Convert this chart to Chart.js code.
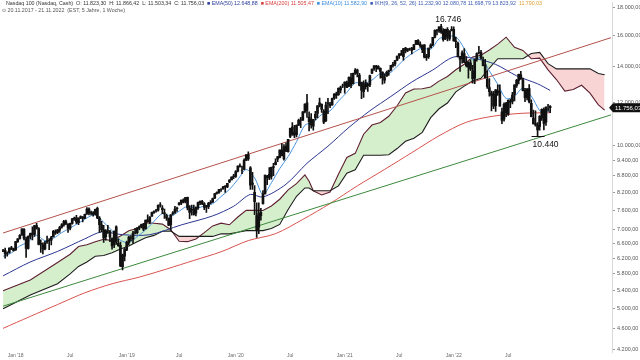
<!DOCTYPE html>
<html>
<head>
<meta charset="utf-8">
<script src="https://cdn.jsdelivr.net/npm/chart.js@4"></script>
<style>
  html, body { margin: 0; padding: 0; background: #fff; }
  canvas { display: block; }
</style>
</head>
<body>
<canvas id="myChart" width="640" height="360"></canvas>
<script>
// weekly candles, 20.11.2017 - 21.11.2022
const startDate = "2017-11-20";
const futureWeeks = 29; // room for the shifted cloud

const open = [
  6380,6410,6330,6350,6480,6450,
  6420,6650,6740,6840,7010,6720,6460,6800,6900,6860,7120,7030,6600,6560,6450,6640,6680,6690,6790,6940,6920,6980,7070,7140,7240,7160,7040,7190,7320,7360,7210,7360,7390,7350,7480,7640,7510,7520,7480,7660,7350,7140,6990,6790,6960,6940,6740,6560,7080,6600,6550,5980,
  6250,6420,6620,6750,6720,6920,6910,7050,7100,7170,7030,7300,7240,7410,7530,7580,7600,7770,7670,7520,7430,7340,7140,7490,7520,7650,7780,7830,7940,7880,8030,7530,7630,7640,7510,7680,7850,7890,7810,7700,7720,7840,7870,8010,8170,8200,8300,8320,8420,8390,8570,8650,8770,
  8780,8970,9180,8990,9040,9400,9630,9100,8480,8200,7430,7070,7430,7820,8150,8730,8850,8780,9120,9230,9440,9510,9820,9450,9980,9750,10400,10830,10580,10480,10910,11160,11150,11560,12000,11300,11200,10870,11260,11470,12000,11920,11580,11120,12000,11920,11900,12240,12470,12420,12680,12890,
  12900,13060,12880,13350,13030,13600,13790,13500,13090,12580,13070,12910,12960,13610,13870,14030,14020,13900,13670,13210,13440,13700,13800,14070,14160,14380,14670,14800,14600,15140,15000,15100,15140,15050,15400,15650,15400,15040,15350,14540,14600,15170,15350,15860,16320,16300,16600,16290,15770,16410,15750,16400,
  16400,15560,15460,14570,14480,14800,14270,13960,14220,13740,13330,14440,14850,14880,14370,14110,13260,12800,12540,12440,11850,12630,12570,11550,11190,11990,11440,12080,12070,12440,12920,13200,13510,13230,12650,12270,12750,11980,11250,10990,10900,10850,11260,11670,11050,11700,11823.30
];
const high = [
  6440,6470,6370,6480,6520,6470,
  6660,6740,6850,7020,7030,6780,6820,6900,7080,7130,7190,7060,6700,6620,6660,6810,6740,6800,6980,6990,7010,7100,7180,7280,7290,7180,7200,7340,7380,7440,7360,7420,7400,7480,7690,7680,7570,7560,7640,7700,7400,7250,7130,7000,7130,6980,6760,6960,7110,6730,6640,6310,
  6460,6670,6800,6820,6950,7040,7060,7110,7170,7190,7290,7450,7400,7540,7580,7630,7780,7850,7750,7640,7480,7360,7460,7560,7730,7700,7850,7940,7980,8030,8040,7750,7770,7770,7710,7870,7910,7930,7850,7760,7860,7920,8000,8170,8220,8310,8330,8410,8440,8520,8660,8760,8850,
  9000,9180,9260,9170,9460,9630,9740,9150,8930,8440,7840,7840,7660,8260,8830,8820,9110,9130,9280,9460,9560,9830,10090,10050,10120,10280,10780,11030,10900,10930,11200,11280,11560,11950,12440,11550,11460,11190,11580,11860,12250,11950,11660,12040,12230,12030,12240,12480,12560,12790,12880,12990,
  13120,13160,13400,13610,13620,13880,13850,13600,13100,13180,13230,13050,13500,13850,14060,14080,14060,13930,13690,13570,13740,13800,14070,14250,14370,14640,14800,15000,15120,15200,15120,15140,15200,15380,15660,15700,15560,15350,15380,14750,15150,15420,15860,16360,16400,16580,16746,16450,16420,16530,16300,16600,
  16580,15860,15540,14620,14970,15120,14600,14280,14400,14080,14440,14850,15265,15000,14570,14440,13720,13300,12620,12600,12690,12960,12950,11730,12000,12030,12150,12190,12550,12950,13260,13560,13720,13330,12760,12750,12970,12160,11630,11600,11030,11370,11700,11750,11800,11920,11866.42
];
const low = [
  6370,6200,6250,6330,6430,6390,
  6410,6630,6720,6830,6700,6220,6440,6730,6700,6800,7010,6560,6350,6310,6420,6600,6430,6560,6780,6860,6880,6920,7040,7100,7150,6920,6990,7160,7280,7180,7150,7330,7230,7330,7470,7450,7450,7410,7440,7330,6920,6940,6630,6690,6890,6650,6440,6480,6570,6520,5980,5900,
  6130,6400,6560,6670,6600,6870,6870,7000,7050,6970,7010,7230,7180,7400,7500,7540,7570,7700,7490,7340,7280,7120,6980,7450,7500,7560,7770,7780,7840,7840,7610,7330,7440,7440,7420,7630,7780,7780,7620,7530,7650,7810,7860,7980,8140,8160,8230,8310,8200,8370,8550,8650,8690,
  8740,8950,9130,8880,9030,9380,9390,8300,8300,7460,6770,6880,7290,7800,8150,8470,8660,8670,8800,9220,9340,9490,9580,9400,9760,9730,10350,10450,10350,10380,10890,10800,11130,11500,11280,10650,10770,10680,11160,11260,11790,11520,10980,11080,11460,11760,11880,12180,12230,12390,12520,12800,
  12500,12800,12850,12800,13000,13540,13400,12900,12210,12280,12720,12590,12860,13580,13780,13700,13840,13320,12990,13040,13430,13490,13740,13960,14040,14350,14500,14700,14390,14840,14920,14990,14780,15040,15370,15360,15190,14850,14530,14370,14500,15140,15290,15820,16010,16180,16120,15600,15690,15620,15640,16300,
  15600,15170,14590,13720,14200,14240,13980,13320,13760,13050,13020,14320,14770,14440,14040,13330,12760,12350,11600,11700,11570,12390,11830,10980,11100,11320,11370,11760,11940,12100,12810,13000,13250,12620,12060,12150,11990,11300,10970,10870,10440,10680,11140,10690,10900,11580,11503.34
];
const close = [
  6403,6310,6340,6470,6450,6400,
  6650,6730,6830,7020,6740,6460,6800,6880,6850,7120,7040,6570,6580,6440,6620,6670,6690,6780,6950,6900,6990,7060,7140,7250,7190,7040,7190,7330,7350,7230,7350,7400,7340,7470,7640,7510,7530,7470,7630,7360,7150,7000,6760,6960,6970,6780,6530,6950,6640,6540,6000,6280,
  6450,6630,6780,6750,6900,6930,7050,7090,7150,7010,7290,7250,7380,7530,7560,7590,7760,7780,7620,7490,7350,7130,7450,7520,7640,7670,7840,7940,7870,8020,7680,7670,7610,7470,7690,7850,7890,7820,7690,7740,7830,7860,7990,8160,8200,8300,8300,8400,8390,8520,8640,8750,8790,
  8960,9170,9150,8990,9400,9620,9450,8460,8530,7880,6990,7500,7530,8150,8830,8780,8720,9120,9150,9330,9550,9820,9590,9950,9760,10270,10770,10500,10460,10910,11140,11150,11550,11940,11620,11080,10930,11170,11430,11850,11870,11670,11050,11890,11940,11860,12230,12460,12380,12760,12800,12890,
  13100,12800,13370,12930,13600,13800,13620,12920,12670,12960,12850,12980,13480,13850,14040,13960,13860,13720,13360,13360,13660,13770,14070,14140,14360,14640,14780,14700,15110,14960,15090,15100,15000,15370,15650,15380,15300,15300,14570,14600,15150,15340,15850,16340,16290,16570,16200,15700,16400,15900,16300,16320,
  15610,15600,14590,14440,14850,14250,14050,14270,13840,13300,14420,14800,14860,14520,14050,13350,12850,12580,12390,11830,12680,12510,11830,11130,11930,11510,12130,12040,12400,12950,13210,13550,13290,12640,12270,12740,12050,11310,10970,10930,10690,11330,11670,10990,11790,11680,11756.03
];

// indicator lines, read at sample weeks (week index from start)
const ema10Weeks = [0,4,8,12,16,20,24,28,32,36,40,44,48,52,56,60,64,68,72,76,80,84,88,92,96,100,104,108,112,116,120,124,128,132,136,140,144,148,152,156,160,164,168,172,176,180,184,188,192,196,200,204,208,212,216,220,224,228,232,236,240,244,248,252,256,258,261];
const ema10 = [6250,6340,6530,6640,6835,6680,6745,6910,7050,7195,7355,7460,7220,6970,6690,6630,6795,6990,7250,7490,7410,7570,7730,7665,7740,7815,8055,8305,8660,9035,8720,8120,8540,9075,9550,10170,10910,11050,11420,11600,12090,12540,13060,13020,13220,13590,13580,14010,14505,14870,15150,15060,15750,15910,15900,15135,14400,14540,13740,12990,12220,12350,12775,12345,11605,11500,11583];

const ema50Weeks = [0,13,26,39,47,57,70,85,100,110,118,124,135,145,155,165,175,185,195,205,215,225,235,245,255,261];
const ema50 = [5750,6100,6380,6730,6930,6850,6850,7140,7420,7730,8130,8040,8490,9280,9980,10810,11600,12330,13110,13800,14580,14490,14130,13460,13010,12650];

const ema200Weeks = [0,13,26,39,52,65,78,91,104,117,130,143,156,169,182,195,208,221,234,248,261];
const ema200 = [4600,4840,5090,5350,5560,5720,5920,6140,6370,6680,6880,7310,7820,8430,9040,9710,10430,11050,11340,11480,11505];

// Ichimoku cloud (already shifted 26 weeks forward)
const cloudWeeks = [0,13,26,32,36,40,44,48,52,56,60,64,68,72,76,80,84,88,92,96,100,104,108,112,116,120,124,128,132,136,140,144,146,148,152,156,160,164,168,172,176,180,184,188,192,196,200,204,208,212,216,220,224,228,232,236,240,244,248,252,256,260,264,268,272,276,280,284,287];
const spanA = [5400,5650,6085,6305,6515,6565,6650,6720,6680,6810,6965,7030,7210,7190,7165,6995,6660,6650,6725,6910,7110,7195,7145,7385,7595,7600,7590,7740,7965,8290,8510,8830,8600,8255,8110,8210,8855,9510,9680,10500,10920,11035,11335,11850,12510,12730,12740,12840,13160,13425,13810,14140,14585,14690,15020,15400,15865,15198,14998,14477,14513,13803,13250,12615,12696,12931,12508,11893,11630];
const spanB = [5000,5300,5560,5800,5985,6100,6250,6270,6345,6445,6530,6650,6760,6830,6950,6960,6800,6800,6800,6800,6800,6875,6875,6920,6970,6970,6970,7035,7155,7625,8065,8355,8355,8255,8255,8255,8430,8900,9025,9605,9605,9605,9625,9880,10190,10325,10585,11265,11700,11990,12575,12885,13170,13320,13910,14478,14478,14478,14478,14803,14868,14173,13863,13863,13863,13863,13863,13593,13520];

// trend lines
const trendWeeks = [0, 290];
const redChannel = [6900, 15830];
const greenTrend = [5055, 11400];

const yTicks = [18000,16000,14000,12000,10000,9400,8800,8200,7600,7000,6600,6200,5800,5400,5000,4600,4200];
const xTickWeeks = [6,32,59,84,111,137,163,189,215,241];
const xTickText = ["Jan '18","Jul","Jan '19","Jul","Jan '20","Jul","Jan '21","Jul","Jan '22","Jul"];

const header1 = [
  ["Nasdaq 100 (Nasdaq, Cash)  O: 11.823,30  H: 11.866,42  L: 11.503,34  C: 11.756,03", "#333"],
  ["\u25A0 EMA(50) 12.648,88", "#2b3a9b"],
  ["\u25A0 EMA(200) 11.505,47", "#d63c3c"],
  ["\u25A0 EMA(10) 11.582,90", "#3b8ee0"],
  ["\u25A0 IKH(9, 26, 52, 26) 11.232,90 12.080,78 11.698,79 13.823,92", "#3b5bb5"],
  ["11.790,03", "#e0a030"]
];
const header2 = "\u2299 20.11.2017 - 21.11.2022  (EST, 5 Jahre, 1 Woche)";

function fmt(v, d) {
  const s = v.toFixed(d).split(".");
  s[0] = s[0].replace(/\B(?=(\d{3})+(?!\d))/g, ".");
  return s.join(",");
}

const labels = [];
const t0 = new Date(startDate + "T00:00:00Z").getTime();
for (let i = 0; i < close.length + futureWeeks; i++) {
  labels.push(new Date(t0 + i * 7 * 864e5).toISOString().slice(0, 10));
}
const pts = (weeks, vals) => weeks.map((w, k) => ({ x: labels[w], y: vals[k] }));

const FONT = '"Liberation Sans", Arial, sans-serif';

const overlay = {
  id: "overlay",
  afterDraw(chart) {
    const { ctx } = chart;
    const x = chart.scales.x, y = chart.scales.y;
    ctx.save();
    // header
    ctx.textBaseline = "middle";
    ctx.textAlign = "left";
    ctx.font = "5.3px " + FONT;
    let px = 6;
    header1.forEach(([t, c]) => {
      ctx.fillStyle = c;
      ctx.fillText(t, px, 3.5);
      px += ctx.measureText(t).width + 3;
    });
    ctx.fillStyle = "#555";
    ctx.fillText(header2, 2, 10.5);

    // all-time high and the low after it
    const hi = high.indexOf(Math.max(...high));
    const after = low.slice(hi);
    const lo = hi + after.indexOf(Math.min(...after));
    ctx.font = "8.5px " + FONT;
    ctx.fillStyle = "#111";
    ctx.textAlign = "center";
    ctx.textBaseline = "alphabetic";
    ctx.fillText(fmt(high[hi], 0), x.getPixelForValue(hi) + 7, y.getPixelForValue(high[hi]) - 2);
    const lx = x.getPixelForValue(lo), ly = y.getPixelForValue(low[lo]);
    ctx.fillText(fmt(low[lo], 0), lx + 8, ly + 11);
    ctx.strokeStyle = "#111";
    ctx.lineWidth = 1;
    ctx.beginPath();
    ctx.moveTo(lx - 6, Math.round(ly) + 0.5);
    ctx.lineTo(lx + 7, Math.round(ly) + 0.5);
    ctx.stroke();

    // last price tag
    const last = close[close.length - 1];
    const ty = y.getPixelForValue(last);
    const left = chart.chartArea.right - 3;
    ctx.fillStyle = "#111";
    ctx.beginPath();
    ctx.moveTo(left, ty);
    ctx.lineTo(left + 4, ty - 4.5);
    ctx.lineTo(640, ty - 4.5);
    ctx.lineTo(640, ty + 4.5);
    ctx.lineTo(left + 4, ty + 4.5);
    ctx.closePath();
    ctx.fill();
    ctx.fillStyle = "#fff";
    ctx.font = "6px " + FONT;
    ctx.textAlign = "left";
    ctx.textBaseline = "middle";
    ctx.fillText(fmt(last, 2), left + 6, ty + 0.5);
    ctx.restore();
  }
};

const lineBase = { type: "line", pointRadius: 0, borderWidth: 1, fill: false };

const ctx = document.getElementById("myChart").getContext("2d");
const myChart = new Chart(ctx, {
  type: "bar",
  data: {
    labels: labels,
    datasets: [
      {
        ...lineBase,
        data: pts(cloudWeeks, spanA),
        borderColor: "#5e1f30",
        borderWidth: 1.1,
        fill: { target: 1, above: "rgba(206,236,196,0.85)", below: "rgba(247,205,205,0.85)" },
        order: 10,
      },
      {
        ...lineBase,
        data: pts(cloudWeeks, spanB),
        borderColor: "#1e1e1e",
        borderWidth: 1.1,
        order: 9,
      },
      { ...lineBase, data: pts(ema200Weeks, ema200), borderColor: "#d9534f", tension: 0.3, order: 8 },
      { ...lineBase, data: pts(ema50Weeks, ema50), borderColor: "#2b3590", tension: 0.3, order: 7 },
      { ...lineBase, data: pts(ema10Weeks, ema10), borderColor: "#4a93dc", tension: 0.3, order: 6 },
      { ...lineBase, data: pts(trendWeeks, redChannel), borderColor: "#b5524a", order: 5 },
      { ...lineBase, data: pts(trendWeeks, greenTrend), borderColor: "#3c8a3c", order: 5 },
      {
        data: high.map((h, i) => [low[i], h]),
        backgroundColor: "#111",
        barThickness: 1,
        grouped: false,
        order: 1,
      },
      {
        data: open.map((o, i) => [o, close[i]]),
        backgroundColor: "#111",
        barThickness: 2,
        grouped: false,
        order: 0,
      },
    ],
  },
  options: {
    responsive: false,
    animation: false,
    devicePixelRatio: 1,
    layout: { padding: { left: 2, right: 0, top: 0, bottom: 0 } },
    scales: {
      x: {
        type: "category",
        grid: { display: false, drawTicks: false },
        border: { display: false },
        ticks: {
          autoSkip: false,
          maxRotation: 0,
          padding: 1,
          color: "#666",
          font: { size: 5, family: FONT },
          callback: (v, i) => {
            const k = xTickWeeks.indexOf(i);
            return k >= 0 ? xTickText[k] : "";
          },
        },
        afterFit: (s) => { s.height = 8; },
      },
      y: {
        type: "logarithmic",
        position: "right",
        min: 4160,
        max: 18380,
        afterBuildTicks: (s) => { s.ticks = yTicks.map((v) => ({ value: v })); },
        grid: { drawOnChartArea: false, tickLength: 3, color: "#999" },
        border: { display: true, color: "#d8d8d8" },
        ticks: {
          autoSkip: false,
          padding: 2,
          color: "#555",
          font: { size: 5.5, family: FONT, lineHeight: 0.2 },
          callback: (v) => fmt(v, 2),
        },
        afterFit: (s) => { s.width = 28; },
      },
    },
    plugins: {
      legend: { display: false },
      tooltip: { enabled: false },
    },
  },
  plugins: [overlay],
});
</script>
</body>
</html>
